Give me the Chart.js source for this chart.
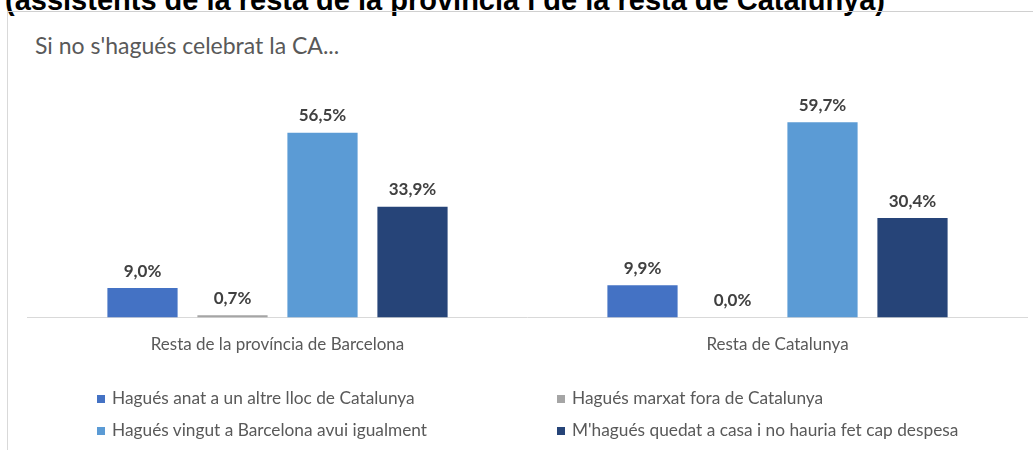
<!DOCTYPE html>
<html>
<head>
<meta charset="utf-8">
<script src="https://cdn.jsdelivr.net/npm/chart.js@4"></script>
<style>
  body { margin: 0; background: #fff; }
  #wrap { position: relative; width: 1033px; height: 450px; overflow: hidden; }
  #head {
    position: absolute; left: 5px; top: -14.5px; white-space: nowrap; line-height: 29px;
    font-family: "Liberation Sans", Arial, sans-serif; font-weight: bold; font-size: 29px; color: #000;
  }
  #box {
    position: absolute; left: 7px; top: 11px; width: 1100px; height: 500px;
    border-left: 1px solid #d9d9d9; border-top: 1px solid #d0d0d0;
  }
  #sub {
    position: absolute; left: 35px; top: 33px; white-space: nowrap; line-height: 24px;
    font-family: Lato, sans-serif; font-size: 23px; color: #595959;
  }
  #chartBox { position: absolute; left: 0; top: 0; width: 1033px; height: 450px; }
  #legend { position: absolute; left: 0; top: 0; font-family: Lato, sans-serif; font-size: 17.3px; color: #595959; }
  .item { position: absolute; white-space: nowrap; line-height: 18px; }
  .item span.sw { display: inline-block; width: 8px; height: 8px; margin-right: 7px; vertical-align: 1px; }
</style>
</head>
<body>
<div id="wrap">
  <div id="head">(assistents de la resta de la provincia i de la resta de Catalunya)</div>
  <div id="box"></div>
  <div id="sub">Si no s'hagués celebrat la CA...</div>
  <div id="chartBox"><canvas id="chart"></canvas></div>
  <div id="legend"></div>
</div>
<script>
// Categories and series (percentages)
const categories = ['Resta de la província de Barcelona', 'Resta de Catalunya'];
const seriesNames = [
    'Hagués anat a un altre lloc de Catalunya',
    'Hagués marxat fora de Catalunya',
    'Hagués vingut a Barcelona avui igualment',
    "M'hagués quedat a casa i no hauria fet cap despesa"
];
const altreLloc = [9.0, 9.9];
const foraCatalunya = [0.7, 0.0];
const vingutBarcelona = [56.5, 59.7];
const quedatCasa = [33.9, 30.4];
const colors = ['#4472c4', '#a5a5a5', '#5b9bd5', '#264478'];

const seriesValues = [altreLloc, foraCatalunya, vingutBarcelona, quedatCasa];

// Value labels above each bar
const valueLabels = {
    id: 'valueLabels',
    afterDatasetsDraw(chart) {
        const ctx = chart.ctx;
        ctx.save();
        ctx.font = 'bold 17px Lato';
        ctx.fillStyle = '#404040';
        ctx.textAlign = 'center';
        ctx.textBaseline = 'middle';
        chart.data.datasets.forEach((ds, i) => {
            chart.getDatasetMeta(i).data.forEach((bar, j) => {
                const txt = ds.data[j].toFixed(1).replace('.', ',') + '%';
                ctx.fillText(txt, bar.x, bar.y - 17);
            });
        });
        ctx.restore();
    }
};

Chart.defaults.font.family = 'Lato';

const chart = new Chart(document.getElementById('chart'), {
    type: 'bar',
    data: {
        labels: categories,
        datasets: seriesNames.map((name, i) => ({
            label: name,
            data: seriesValues[i],
            backgroundColor: colors[i],
            barPercentage: 0.78,
            categoryPercentage: 0.72
        }))
    },
    options: {
        responsive: true,
        maintainAspectRatio: false,
        animation: false,
        layout: {
            padding: { left: 27.5, right: 5.5, top: 88.6, bottom: 92.5 }
        },
        plugins: {
            legend: { display: false },
            tooltip: { enabled: false }
        },
        scales: {
            x: {
                grid: { display: false, drawTicks: false },
                border: { color: '#d9d9d9', width: 1 },
                ticks: { font: { size: 17 }, color: '#595959', padding: 17 },
                afterFit: scale => { scale.height = 40; }
            },
            y: {
                display: false,
                min: 0,
                max: 70
            }
        }
    },
    plugins: [valueLabels]
});

// Legend in two columns
const legend = document.getElementById('legend');
const cols = [97, 557];
const rows = [389, 421];
chart.data.datasets.forEach((ds, i) => {
    const item = document.createElement('div');
    item.className = 'item';
    item.style.left = cols[i % 2] + 'px';
    item.style.top = rows[Math.floor(i / 2)] + 'px';
    item.innerHTML = '<span class="sw" style="background:' + ds.backgroundColor + '"></span>';
    item.appendChild(document.createTextNode(ds.label));
    legend.appendChild(item);
});
</script>
</body>
</html>
